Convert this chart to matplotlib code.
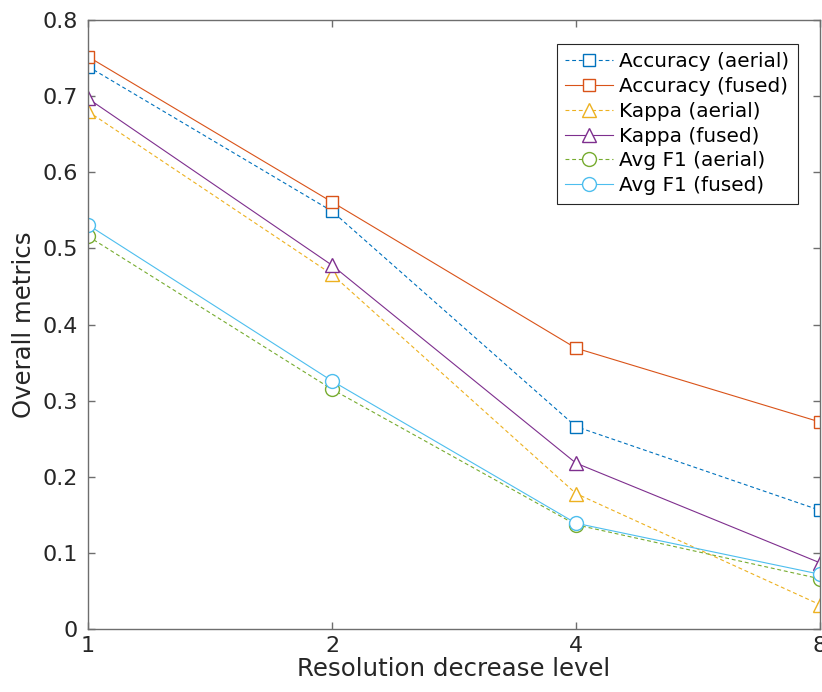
import matplotlib.pyplot as plt
from matplotlib.ticker import FixedLocator, NullLocator

# resolution decrease levels and metrics
levels = [1, 2, 4, 8]
acc_aerial = [0.739, 0.549, 0.266, 0.156]
acc_fused = [0.752, 0.561, 0.369, 0.272]
kappa_aerial = [0.680, 0.466, 0.178, 0.032]
kappa_fused = [0.697, 0.478, 0.218, 0.087]
f1_aerial = [0.516, 0.315, 0.137, 0.066]
f1_fused = [0.531, 0.326, 0.139, 0.072]

yticks = [0, 0.1, 0.2, 0.3, 0.4, 0.5, 0.6, 0.7, 0.8]
ytick_labels = ['0', '0.1', '0.2', '0.3', '0.4', '0.5', '0.6', '0.7', '0.8']

plt.rcParams['font.family'] = 'DejaVu Sans'
fig = plt.figure(figsize=(8.22, 6.92), dpi=100)
ax = fig.add_axes([0.107, 0.091, 0.8905, 0.880])

lw = 0.8
dash = (0, (3.5, 2.5))
ax.plot(levels, acc_aerial, marker='s', ls=dash, color='#0072BD', mfc='white', ms=8, lw=lw, mew=1, label='Accuracy (aerial)')
ax.plot(levels, acc_fused, marker='s', ls='-', color='#D95319', mfc='white', ms=8, lw=lw, mew=1, label='Accuracy (fused)')
ax.plot(levels, kappa_aerial, marker='^', ls=dash, color='#EDB120', mfc='white', ms=10.5, lw=lw, mew=1, label='Kappa (aerial)')
ax.plot(levels, kappa_fused, marker='^', ls='-', color='#7E2F8E', mfc='white', ms=10.5, lw=lw, mew=1, label='Kappa (fused)')
ax.plot(levels, f1_aerial, marker='o', ls=dash, color='#77AC30', mfc='white', ms=10, lw=lw, mew=1, label='Avg F1 (aerial)')
ax.plot(levels, f1_fused, marker='o', ls='-', color='#4DBEEE', mfc='white', ms=10, lw=lw, mew=1, label='Avg F1 (fused)')

ax.set_xscale('log', base=2)
ax.set_xlim(1, 8)
ax.set_ylim(0, 0.8)
ax.xaxis.set_major_locator(FixedLocator(levels))
ax.xaxis.set_minor_locator(NullLocator())
ax.set_xticklabels([str(v) for v in levels])
ax.set_yticks(yticks)
ax.set_yticklabels(ytick_labels)

for s in ax.spines.values():
    s.set_color('#6e6e6e')
    s.set_linewidth(1.0)
ax.tick_params(direction='in', top=True, right=True, length=5, width=1.0,
               color='#6e6e6e', labelcolor='#262626', labelsize=16, pad=5)
ax.tick_params(axis='y', pad=7)

ax.set_xlabel('Resolution decrease level', fontsize=17.6, color='#262626', labelpad=1)
ax.set_ylabel('Overall metrics', fontsize=17.6, color='#262626', labelpad=5)

leg = ax.legend(loc='upper right', bbox_to_anchor=(0.970, 0.961), borderaxespad=0,
                fontsize=14.4, handlelength=2.4, handletextpad=0.3, borderpad=0.42,
                labelspacing=0.29, fancybox=False, framealpha=1)
leg.get_frame().set_edgecolor('#262626')
leg.get_frame().set_linewidth(0.8)

fig.savefig('out.png', dpi=100)
